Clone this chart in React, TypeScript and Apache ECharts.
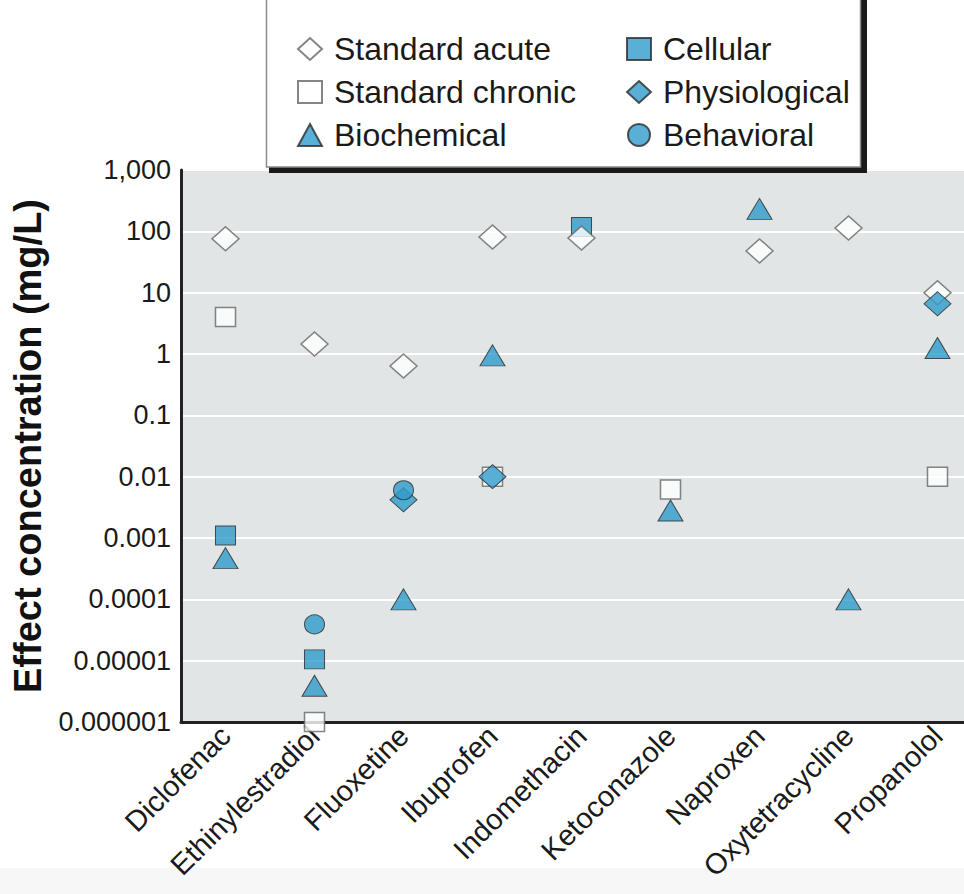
import React, { useEffect, useRef } from "react";
import * as echarts from "echarts";

// Compounds along the x axis
const compounds = [
  "Diclofenac",
  "Ethinylestradiol",
  "Fluoxetine",
  "Ibuprofen",
  "Indomethacin",
  "Ketoconazole",
  "Naproxen",
  "Oxytetracycline",
  "Propanolol",
];

// Effect concentrations (mg/L), one entry per compound, null = no value
const standardAcute = [76, 1.45, 0.64, 81, 78, null, 48, 113, 10];
const standardChronic = [4.0, 0.000001, null, 0.01, null, 0.0062, null, null, 0.01];
const biochemical = [0.00047, 0.0000039, 0.0001, 0.95, null, 0.0028, 232, 0.0001, 1.25];
const cellular = [0.0011, 0.0000105, null, null, 118, null, null, null, null];
const physiological = [null, null, 0.0042, 0.01, null, null, null, null, 6.6];
const behavioral = [null, 0.000039, 0.006, null, null, null, null, null, null];

// Log-axis tick labels, from 10^-6 up to 10^3
const yTickLabels = [
  "0.000001",
  "0.00001",
  "0.0001",
  "0.001",
  "0.01",
  "0.1",
  "1",
  "10",
  "100",
  "1,000",
];

const BLUE = "#2f9bcb";
const SANS = "'Liberation Sans', Arial, Helvetica, sans-serif";

const toPairs = (vals: (number | null)[]) =>
  vals
    .map((v, i) => (v == null ? null : [compounds[i], v]))
    .filter((p) => p !== null);

const openStyle = { color: "#ffffff", borderColor: "#666666", borderWidth: 1.5 };
const filledStyle = { color: BLUE, borderColor: "#2a2a2a", borderWidth: 1 };

export default function App() {
  const ref = useRef<HTMLDivElement>(null);

  useEffect(() => {
    document.body.style.margin = "0";
    if (!ref.current) return;
    const chart = echarts.init(ref.current, null, { renderer: "svg" });

    const mk = (
      name: string,
      vals: (number | null)[],
      symbol: string,
      size: number | number[],
      style: any
    ) => ({
      name,
      type: "scatter",
      data: toPairs(vals),
      symbol,
      symbolSize: size,
      itemStyle: style,
      clip: false,
      emphasis: { disabled: true },
    });

    const legendText = {
      fontFamily: SANS,
      fontSize: 32,
      color: "#1a1a1a",
      lineHeight: 40,
      padding: [0, 0, 0, 7],
    };

    chart.setOption({
      animation: false,
      grid: {
        left: 181,
        top: 170,
        bottom: 172,
        right: -18,
        outerBoundsMode: "none",
        containLabel: false,
        show: true,
        backgroundColor: "#e1e5e5",
        borderWidth: 0,
      },
      xAxis: {
        type: "category",
        data: compounds,
        boundaryGap: true,
        axisLine: { show: true, lineStyle: { color: "#222222", width: 3 } },
        axisTick: { show: false },
        splitLine: { show: false },
        axisLabel: {
          interval: 0,
          rotate: 45,
          margin: 9,
          fontFamily: SANS,
          fontSize: 29,
          color: "#1a1a1a",
        },
      },
      yAxis: {
        type: "log",
        logBase: 10,
        min: 0.000001,
        max: 1000,
        name: "Effect concentration (mg/L)",
        nameLocation: "middle",
        nameGap: 130,
        nameTextStyle: {
          fontFamily: SANS,
          fontWeight: "bold",
          fontSize: 38,
          color: "#111111",
        },
        axisLine: { show: true, lineStyle: { color: "#222222", width: 3 } },
        axisTick: { show: false },
        splitLine: { show: true, lineStyle: { color: "#ffffff", width: 2 } },
        axisLabel: {
          margin: 10,
          fontFamily: SANS,
          fontSize: 27,
          color: "#1a1a1a",
          formatter: (v: number) => yTickLabels[Math.round(Math.log10(v)) + 6] ?? "",
        },
      },
      graphic: [
        {
          type: "rect",
          z: 10,
          shape: { x: 269, y: -10, width: 598, height: 183 },
          style: { fill: "#1a1a1a" },
        },
        {
          type: "rect",
          z: 11,
          shape: { x: 266.5, y: -10, width: 594, height: 177 },
          style: { fill: "#ffffff", stroke: "#8a8a8a", lineWidth: 1.5 },
        },
      ],
      legend: [
        {
          z: 20,
          left: 292,
          top: 24,
          orient: "vertical",
          itemWidth: 24,
          itemHeight: 22,
          itemGap: 3,
          selectedMode: false,
          data: ["Standard acute", "Standard chronic", "Biochemical"],
          textStyle: legendText,
        },
        {
          z: 20,
          left: 621,
          top: 24,
          orient: "vertical",
          itemWidth: 24,
          itemHeight: 22,
          itemGap: 3,
          selectedMode: false,
          data: ["Cellular", "Physiological", "Behavioral"],
          textStyle: legendText,
        },
      ],
      series: [
        mk("Standard chronic", standardChronic, "rect", [20, 19], openStyle),
        mk("Cellular", cellular, "rect", [20, 19], filledStyle),
        mk("Standard acute", standardAcute, "diamond", [27, 24], openStyle),
        mk("Biochemical", biochemical, "triangle", [25, 21], filledStyle),
        mk("Physiological", physiological, "diamond", [27, 24], filledStyle),
        mk("Behavioral", behavioral, "circle", [20, 19], filledStyle),
      ],
    });

    return () => chart.dispose();
  }, []);

  return (
    <div
      ref={ref}
      style={{
        width: 964,
        height: 894,
        background:
          "linear-gradient(to bottom, #ffffff 0px, #ffffff 868px, #f7f7f7 868px, #f7f7f7 894px)",
      }}
    />
  );
}
